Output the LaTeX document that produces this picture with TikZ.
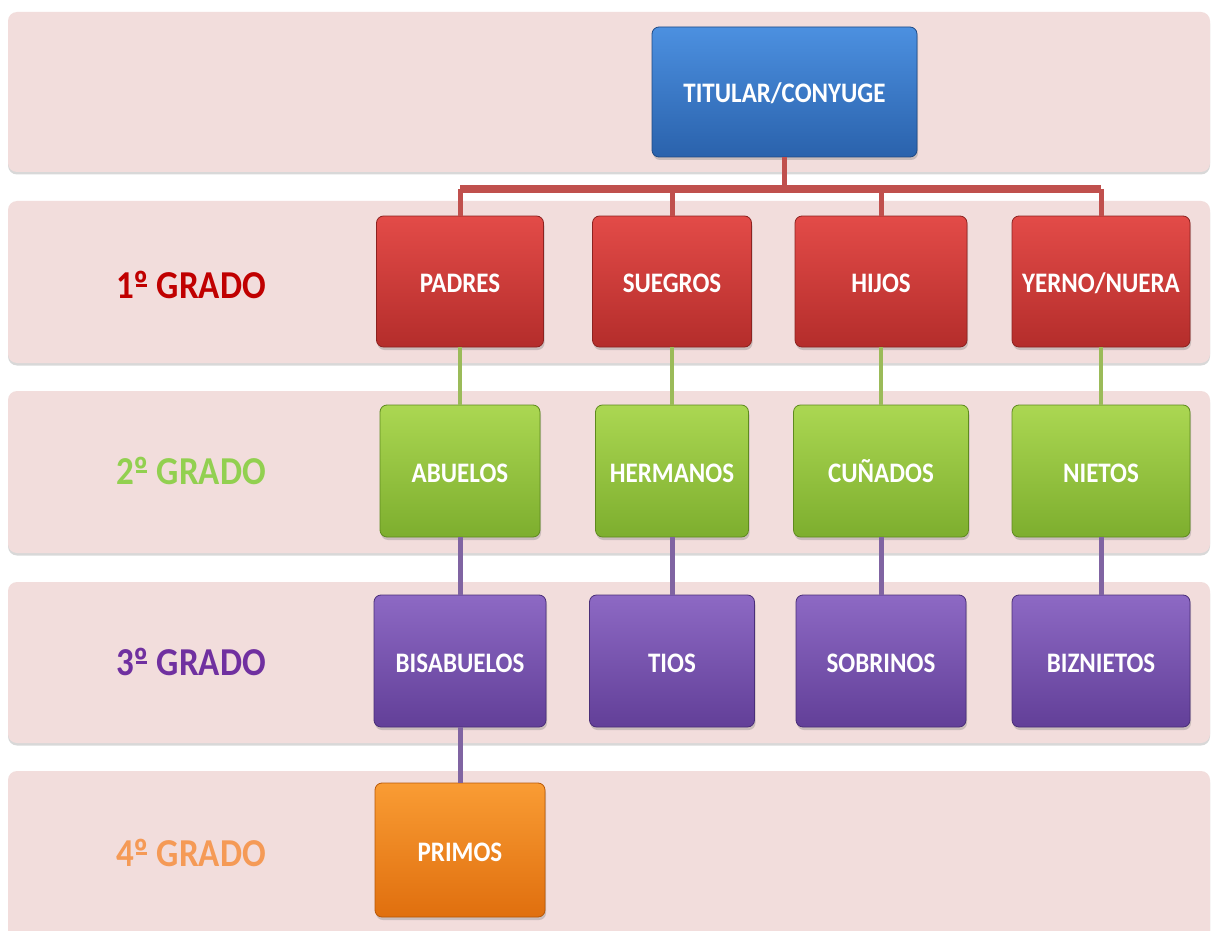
\documentclass[tikz,border=0pt]{standalone}
\usepackage{fontspec}
\usepackage{graphicx}
\setmainfont{Carlito}
\usetikzlibrary{shadows}
\definecolor{bandc}{HTML}{F2DDDC}
\definecolor{redtop}{HTML}{E34B48}
\definecolor{redbot}{HTML}{B42D2B}
\definecolor{redbrd}{HTML}{8C2220}
\definecolor{bluetop}{HTML}{4C90E0}
\definecolor{bluebot}{HTML}{2A62AC}
\definecolor{bluebrd}{HTML}{1F4A85}
\definecolor{greentop}{HTML}{ABD752}
\definecolor{greenbot}{HTML}{7DAE2E}
\definecolor{greenbrd}{HTML}{5E8A1E}
\definecolor{purptop}{HTML}{8D69C4}
\definecolor{purpbot}{HTML}{623F98}
\definecolor{purpbrd}{HTML}{4A2E78}
\definecolor{orgtop}{HTML}{F99C34}
\definecolor{orgbot}{HTML}{E06F0E}
\definecolor{orgbrd}{HTML}{B85808}
\definecolor{redln}{HTML}{C0504D}
\definecolor{greenln}{HTML}{9BBB59}
\definecolor{purpln}{HTML}{8064A2}
\definecolor{lab1}{HTML}{C00000}
\definecolor{lab2}{HTML}{92D050}
\definecolor{lab3}{HTML}{7030A0}
\definecolor{lab4}{HTML}{F59A56}
\newcommand\tl[1]{\scalebox{1}[1.13]{#1}}
% masculine ordinal with the underline that Calibri draws
\newcommand\ordmu{{\setbox0\hbox{º}\rlap{º}\rlap{\kern0.07em\rule[0.29em]{\dimexpr\wd0-0.14em\relax}{0.07em}}\hbox to\wd0{}}}
\tikzset{
  bandbox/.style={fill=bandc, rounded corners=9pt,
    drop shadow={shadow xshift=0pt, shadow yshift=-2.5pt, opacity=0.3, fill=gray}},
  gbox/.style={rounded corners=7pt, inner sep=0pt, text=white, line width=0.8pt,
    text height=22pt, text depth=0pt,
    font=\bfseries\fontsize{25}{30}\selectfont,
    drop shadow={shadow xshift=1pt, shadow yshift=-3pt, opacity=0.35}},
  bluebox/.style={gbox, top color=bluetop, bottom color=bluebot, draw=bluebrd},
  redbox/.style={gbox, top color=redtop, bottom color=redbot, draw=redbrd, minimum height=131pt},
  greenbox/.style={gbox, top color=greentop, bottom color=greenbot, draw=greenbrd, minimum height=132pt},
  purpbox/.style={gbox, top color=purptop, bottom color=purpbot, draw=purpbrd, minimum height=132pt},
  orgbox/.style={gbox, top color=orgtop, bottom color=orgbot, draw=orgbrd, minimum height=134pt},
  gradelabel/.style={font=\bfseries\fontsize{35}{40}\selectfont, inner sep=0pt},
  redcon/.style={draw=redln, line width=5pt},
  greencon/.style={draw=greenln, line width=4pt},
  purpcon/.style={draw=purpln, line width=5pt},
}
\begin{document}
\begin{tikzpicture}[x=1pt, y=-1pt]
\clip (0,0) rectangle (1211,931);
\fill[white] (0,0) rectangle (1211,931);
% bands
\path[bandbox] (8,12) rectangle (1210,172);
\path[bandbox] (8,201) rectangle (1210,363);
\path[bandbox] (8,391) rectangle (1210,553);
\path[bandbox] (8,582) rectangle (1210,743);
\path[bandbox] (8,771) rectangle (1210,945);

% grade labels
\node[gradelabel, text=lab1] (g1) at (191,285) {\tl{1\ordmu{} GRADO}};
\node[gradelabel, text=lab2] (g2) at (191,471) {\tl{2\ordmu{} GRADO}};
\node[gradelabel, text=lab3] (g3) at (191,662) {\tl{3\ordmu{} GRADO}};
\node[gradelabel, text=lab4] (g4) at (191,853) {\tl{4\ordmu{} GRADO}};

% junction points of the red bar
\coordinate (b1) at (460,189);
\coordinate (b2) at (672,189);
\coordinate (b3) at (881,189);
\coordinate (b4) at (1101,189);
\coordinate (bs) at (784.5,189);

% top box
\node[bluebox, minimum width=265pt, minimum height=130pt] (tit) at (784.5,92) {\tl{TITULAR/CONYUGE}};

% first degree
\node[redbox, minimum width=167pt] (pad) at (460,281.5) {\tl{PADRES}};
\node[redbox, minimum width=159pt] (sue) at (672,281.5) {\tl{SUEGROS}};
\node[redbox, minimum width=172pt] (hij) at (881,281.5) {\tl{HIJOS}};
\node[redbox, minimum width=178pt] (yer) at (1101,281.5) {\tl{YERNO/NUERA}};

% second degree
\node[greenbox, minimum width=160pt] (abu) at (460,471) {\tl{ABUELOS}};
\node[greenbox, minimum width=153pt] (her) at (672,471) {\tl{HERMANOS}};
\node[greenbox, minimum width=175pt] (cun) at (881,471) {\tl{CUÑADOS}};
\node[greenbox, minimum width=178pt] (nie) at (1101,471) {\tl{NIETOS}};

% third degree
\node[purpbox, minimum width=172pt] (bis) at (460,661) {\tl{BISABUELOS}};
\node[purpbox, minimum width=165pt] (tio) at (672,661) {\tl{TIOS}};
\node[purpbox, minimum width=170pt] (sob) at (881,661) {\tl{SOBRINOS}};
\node[purpbox, minimum width=178pt] (biz) at (1101,661) {\tl{BIZNIETOS}};

% fourth degree
\node[orgbox, minimum width=170pt] (pri) at (460,850) {\tl{PRIMOS}};

% connectors
\path[redcon] (tit.south) -- (bs);
\path[draw=redln, line width=8pt] (b1) -- (b4);
\path[redcon] (b1) -- (pad.north);
\path[redcon] (b2) -- (sue.north);
\path[redcon] (b3) -- (hij.north);
\path[redcon] (b4) -- (yer.north);

\path[greencon] (pad.south) -- (abu.north);
\path[greencon] (sue.south) -- (her.north);
\path[greencon] (hij.south) -- (cun.north);
\path[greencon] (yer.south) -- (nie.north);

\path[purpcon] (abu.south) -- (bis.north);
\path[purpcon] (her.south) -- (tio.north);
\path[purpcon] (cun.south) -- (sob.north);
\path[purpcon] (nie.south) -- (biz.north);
\path[purpcon] (bis.south) -- (pri.north);
\end{tikzpicture}
\end{document}
